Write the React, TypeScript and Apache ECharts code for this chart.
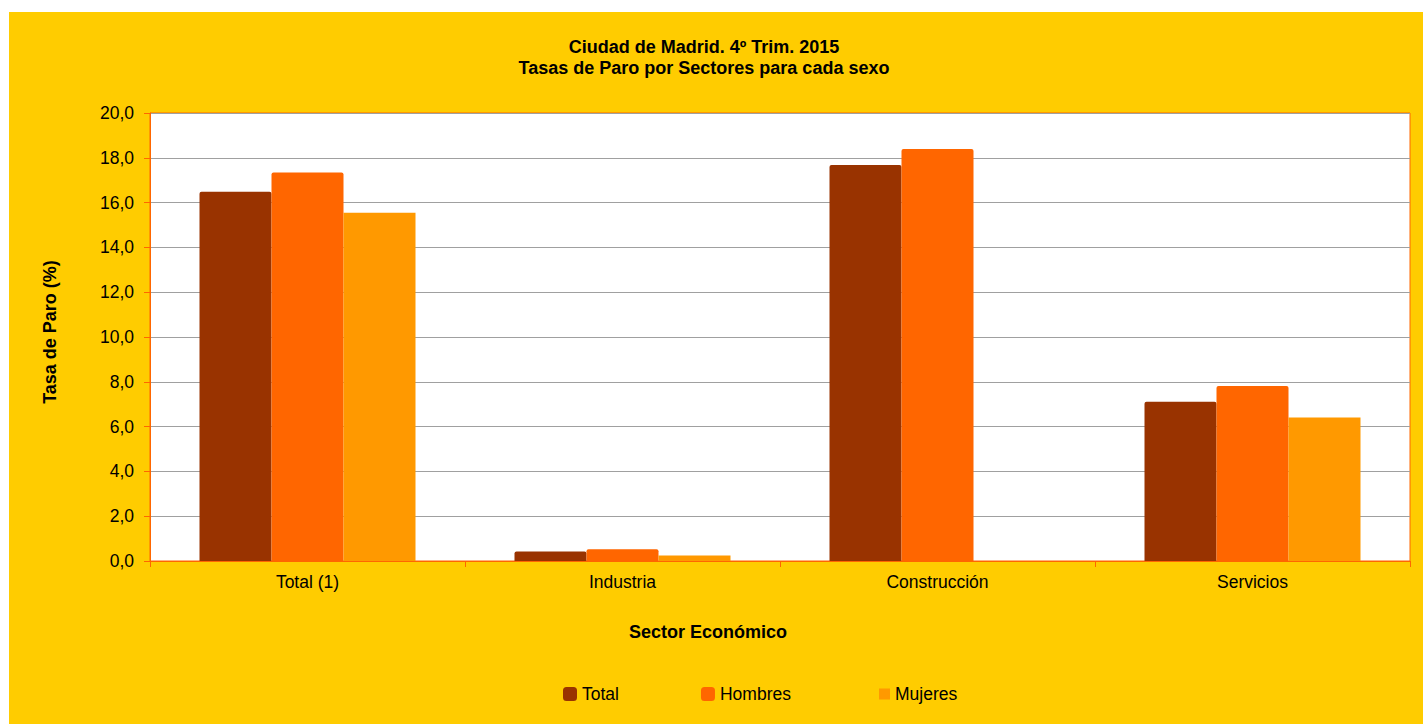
import React, { useEffect, useRef } from "react";
import * as echarts from "echarts";

const categories = ["Total (1)", "Industria", "Construcción", "Servicios"];
const totalValues = [16.48, 0.42, 17.68, 7.11];
const hombresValues = [17.34, 0.52, 18.39, 7.81];
const mujeresValues: (number | null)[] = [15.55, 0.24, null, 6.41];
const yTicks = { min: 0, max: 20, interval: 2 };

const FONT = "'Liberation Sans', Arial, Helvetica, sans-serif";
const ORANGE = "#FF6600";

export default function App() {
  const ref = useRef<HTMLDivElement>(null);
  useEffect(() => {
    if (!ref.current) return;
    const chart = echarts.init(ref.current, null, { renderer: "svg" });
    const boldText = (text: string, x: number, y: number, rotation = 0) => ({
      type: "text",
      x,
      y,
      rotation,
      style: {
        text,
        fontFamily: FONT,
        fontSize: 18,
        fontWeight: "bold",
        fill: "#000",
        textAlign: "center",
        textVerticalAlign: "middle",
      },
    });
    chart.setOption({
      animation: false,
      backgroundColor: "#FFCC00",
      textStyle: { fontFamily: FONT },
      graphic: [
        boldText("Ciudad de Madrid. 4º Trim. 2015", 695, 35),
        boldText("Tasas de Paro por Sectores para cada sexo", 695, 56),
        boldText("Sector Económico", 699, 620),
        boldText("Tasa de Paro (%)", 41, 320, Math.PI / 2),
      ],
      grid: {
        left: 141,
        top: 101,
        right: 13,
        bottom: 163,
        show: true,
        backgroundColor: "#ffffff",
        borderColor: ORANGE,
        borderWidth: 1,
        containLabel: false,
      },
      legend: [
        {
          data: ["Total", "Hombres"],
          left: 549,
          top: 668,
          itemWidth: 14,
          itemHeight: 14,
          itemGap: 82,
          icon: "roundRect",
          textStyle: { fontSize: 17.5, color: "#000", fontFamily: FONT },
        },
        {
          data: ["Mujeres"],
          left: 865,
          top: 668,
          itemWidth: 11,
          itemHeight: 11,
          icon: "rect",
          textStyle: { fontSize: 17.5, color: "#000", fontFamily: FONT },
        },
      ],
      xAxis: {
        type: "category",
        data: categories,
        boundaryGap: true,
        axisLine: { lineStyle: { color: ORANGE, width: 1 } },
        axisTick: { show: true, length: 6, lineStyle: { color: ORANGE } },
        axisLabel: { color: "#000", fontSize: 17.5, margin: 12, fontFamily: FONT },
        splitLine: { show: false },
      },
      yAxis: {
        type: "value",
        min: yTicks.min,
        max: yTicks.max,
        interval: yTicks.interval,
        axisLine: { show: true, lineStyle: { color: ORANGE, width: 1 } },
        axisTick: { show: true, length: 6, lineStyle: { color: ORANGE } },
        axisLabel: {
          color: "#000",
          fontSize: 17.5,
          margin: 16,
          fontFamily: FONT,
          formatter: (v: number) => v.toFixed(1).replace(".", ","),
        },
        splitLine: { show: true, lineStyle: { color: "#a0a0a0", width: 1 } },
      },
      series: [
        {
          name: "Total",
          type: "bar",
          data: totalValues,
          barWidth: 72,
          barGap: "0%",
          itemStyle: { color: "#993300", borderRadius: [2, 2, 0, 0] },
        },
        {
          name: "Hombres",
          type: "bar",
          data: hombresValues,
          barWidth: 72,
          barGap: "0%",
          itemStyle: { color: "#FF6600", borderRadius: [2, 2, 0, 0] },
        },
        {
          name: "Mujeres",
          type: "bar",
          data: mujeresValues,
          barWidth: 72,
          barGap: "0%",
          itemStyle: { color: "#FF9900" },
        },
      ],
    });
    return () => chart.dispose();
  }, []);
  return (
    <div
      ref={ref}
      style={{ position: "absolute", left: 9, top: 12, width: 1414, height: 712 }}
    />
  );
}
